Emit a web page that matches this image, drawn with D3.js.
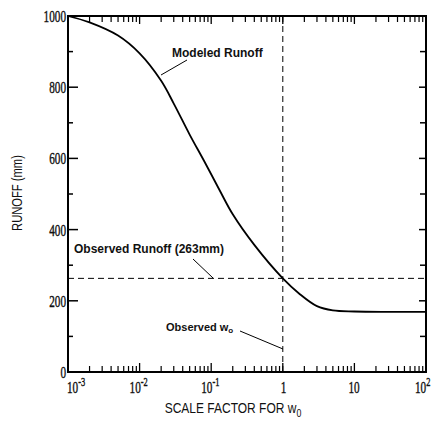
<!DOCTYPE html>
<html><head><meta charset="utf-8">
<script src="https://cdn.jsdelivr.net/npm/d3@7"></script>
<style>
body{margin:0;background:#fff;}
svg text{font-family:"Liberation Sans","Helvetica",Arial,sans-serif;fill:#111;}
</style></head><body>
<svg id="c" width="434" height="423"></svg>
<script>
// Data
const scaleFactor = [0.001, 0.002, 0.005, 0.01, 0.02, 0.03, 0.05, 0.08, 0.13, 0.2, 0.4, 1, 1.7, 3, 5, 10, 30, 100];
const modeledRunoff = [1000, 982, 945, 895, 818, 754, 667, 592, 512, 443, 357, 263, 220, 185, 173, 170, 169, 169];
const observedRunoff = 263;
const observedW = 1;
const decades = [0.001, 0.01, 0.1, 1, 10, 100];
const decadeLabels = [["10","-3"],["10","-2"],["10","-1"],["1",""],["10",""],["10","2"]];
const minorMult = [2,3,4,5,6,7,8,9];
const yTicksMajor = [0,200,400,600,800,1000];
const yTicksMinor = [100,300,500,700,900];

const svg = d3.select("#c");
const L=68,R=426,T=16,B=372;
const x = d3.scaleLog().domain([0.001,100]).range([L,R]);
const y = d3.scaleLinear().domain([0,1000]).range([B,T]);
const SX = 0.7; // condensed look of the original lettering
const serif = "'Liberation Serif','Times New Roman',serif";

function narrowText(parent, px, py, sx){
  return parent.append("g").attr("transform",`translate(${px},${py}) scale(${sx},1)`).append("text");
}

const g = svg.append("g");
// frame
g.append("rect").attr("x",L).attr("y",T).attr("width",R-L).attr("height",B-T)
 .attr("fill","none").attr("stroke","#000").attr("stroke-width",2);

// y ticks (left & right, inward)
yTicksMajor.forEach(v=>{
  g.append("line").attr("x1",L).attr("x2",L+10).attr("y1",y(v)).attr("y2",y(v)).attr("stroke","#000").attr("stroke-width",1.5);
  g.append("line").attr("x1",R).attr("x2",R-7).attr("y1",y(v)).attr("y2",y(v)).attr("stroke","#000").attr("stroke-width",1.5);
  narrowText(g, L-2, y(v)+6, SX).attr("text-anchor","end").attr("font-size",16)
    .attr("stroke","#111").attr("stroke-width",0.4)
    .style("font-family",serif).text(v);
});
yTicksMinor.forEach(v=>{
  g.append("line").attr("x1",L).attr("x2",L+5).attr("y1",y(v)).attr("y2",y(v)).attr("stroke","#000").attr("stroke-width",1.5);
  g.append("line").attr("x1",R).attr("x2",R-6).attr("y1",y(v)).attr("y2",y(v)).attr("stroke","#000").attr("stroke-width",1.5);
});

// x ticks (bottom & top, inward)
decades.forEach((d,i)=>{
  g.append("line").attr("x1",x(d)).attr("x2",x(d)).attr("y1",B).attr("y2",B-9).attr("stroke","#000").attr("stroke-width",1.3);
  g.append("line").attr("x1",x(d)).attr("x2",x(d)).attr("y1",T).attr("y2",T+8).attr("stroke","#000").attr("stroke-width",1.3);
  const lab = decadeLabels[i];
  let px;
  if(!lab[1]) px = x(d) - (lab[0].length>1?6:2);
  else if(i===0) px = x(d)-1;
  else if(i===decades.length-1) px = x(d)-11;
  else px = x(d)-10;
  const t = narrowText(g, px, 393, SX).attr("font-size",16)
    .attr("stroke","#111").attr("stroke-width",0.4)
    .style("font-family",serif);
  t.append("tspan").text(lab[0]);
  if(lab[1]) t.append("tspan").attr("dy",-7).attr("font-size",12).text(lab[1]);
  if(i<decades.length-1){
    minorMult.forEach(m=>{
      const v=d*m;
      g.append("line").attr("x1",x(v)).attr("x2",x(v)).attr("y1",B).attr("y2",B-6).attr("stroke","#000").attr("stroke-width",1.2);
      g.append("line").attr("x1",x(v)).attr("x2",x(v)).attr("y1",T).attr("y2",T+6).attr("stroke","#000").attr("stroke-width",1.2);
    });
  }
});

// dashed reference lines
g.append("line").attr("x1",L).attr("x2",R).attr("y1",y(observedRunoff)).attr("y2",y(observedRunoff))
 .attr("stroke","#000").attr("stroke-width",1).attr("stroke-dasharray","6,4");
g.append("line").attr("x1",x(observedW)).attr("x2",x(observedW)).attr("y1",T).attr("y2",B)
 .attr("stroke","#000").attr("stroke-width",1).attr("stroke-dasharray","6,4");

// curve
const line = d3.line().x((d,i)=>x(scaleFactor[i])).y(d=>y(d)).curve(d3.curveCatmullRom.alpha(0.5));
g.append("path").datum(modeledRunoff).attr("d",line).attr("fill","none").attr("stroke","#000").attr("stroke-width",1.8);

// annotations
const ann = svg.append("g");
ann.append("text").attr("x",172).attr("y",57).attr("font-size",12).attr("font-weight","bold").text("Modeled Runoff");
ann.append("line").attr("x1",187).attr("y1",60).attr("x2",161).attr("y2",75).attr("stroke","#000").attr("stroke-width",1);

ann.append("text").attr("x",74).attr("y",253).attr("font-size",12).attr("font-weight","bold").text("Observed Runoff (263mm)");
ann.append("line").attr("x1",193).attr("y1",259).attr("x2",213).attr("y2",278).attr("stroke","#000").attr("stroke-width",1);

const ow = ann.append("text").attr("x",166).attr("y",331).attr("font-size",11).attr("font-weight","bold");
ow.append("tspan").text("Observed w");
ow.append("tspan").attr("dy",2).attr("font-size",8).text("o");
ann.append("line").attr("x1",240).attr("y1",331).attr("x2",283).attr("y2",349).attr("stroke","#000").attr("stroke-width",1);

// axis titles
const xt = narrowText(svg, 233, 413, 0.8).attr("text-anchor","middle").attr("font-size",15);
xt.append("tspan").text("SCALE FACTOR FOR w");
xt.append("tspan").attr("dy",4).attr("font-size",11).text("0");

svg.append("g").attr("transform","translate(22,193) rotate(-90) scale(0.8,1)")
  .append("text").attr("text-anchor","middle").attr("font-size",14).text("RUNOFF (mm)");
</script>
</body></html>
